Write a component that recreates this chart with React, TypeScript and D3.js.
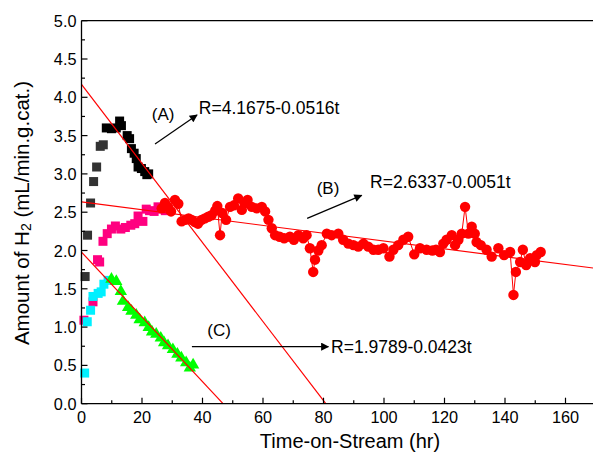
import React from "react";
import * as d3 from "d3";

const W = 593;
const H = 459;
const X_MAX = 170;
const Y_MAX = 5;

// gray squares (early part of series A)
const grayT = [1.2, 2.0, 3.0, 4.0, 5.0, 6.2, 7.2];
const grayV = [1.66, 2.2, 2.62, 2.9, 3.09, 3.36, 3.38];
// black squares (series A)
const blackT = [8.2, 9.9, 11.5, 12.6, 13.2, 15.1, 15.9, 16.5, 17.4, 18.1, 18.7, 19.8, 20.9, 21.6, 22.2];
const blackV = [3.6, 3.59, 3.6, 3.69, 3.63, 3.5, 3.46, 3.33, 3.27, 3.2, 3.09, 3.07, 3.03, 2.99, 3.0];
// magenta squares (early part of series B)
const pinkT = [0.8, 3.8, 5.3, 6.0, 7.1, 8.5, 9.9, 11.2, 13.0, 14.5, 16.3, 17.6, 18.7, 20.3, 21.4, 22.5, 24.0, 25.3, 26.4, 27.7];
const pinkV = [1.09, 1.33, 1.88, 1.85, 2.12, 2.22, 2.28, 2.32, 2.28, 2.3, 2.33, 2.35, 2.45, 2.38, 2.54, 2.52, 2.51, 2.57, 2.54, 2.52];
// red circles (series B)
const redT = [26.5, 27.6, 28.6, 29.6, 30.9, 32.0, 33.1, 34.3, 35.4, 36.4, 37.5, 38.5, 39.7, 40.8, 41.9, 43.0, 44.2, 44.9, 45.8, 46.5, 47.8, 49.1, 50.4, 51.8, 53.0, 54.0, 54.9, 56.3, 57.9, 59.6, 60.7, 61.8, 62.9, 64.0, 65.5, 67.0, 68.9, 70.2, 71.7, 73.3, 74.4, 75.5, 76.6, 77.2, 78.3, 79.4, 81.1, 82.7, 84.9, 86.5, 88.2, 89.9, 91.5, 93.2, 94.8, 96.5, 98.1, 99.8, 101.8, 103.1, 104.7, 106.4, 108.0, 110.0, 111.9, 114.1, 116.0, 117.2, 118.5, 119.6, 120.7, 122.4, 123.5, 124.6, 125.7, 126.8, 127.9, 129.0, 130.0, 130.6, 132.0, 133.9, 135.6, 137.8, 139.7, 141.7, 142.8, 143.6, 145.0, 145.9, 147.0, 148.3, 149.9, 150.5, 151.8];
const redV = [2.55, 2.62, 2.57, 2.51, 2.66, 2.61, 2.38, 2.4, 2.42, 2.4, 2.37, 2.35, 2.4, 2.42, 2.44, 2.46, 2.52, 2.58, 2.2, 2.49, 2.4, 2.57, 2.59, 2.68, 2.53, 2.62, 2.66, 2.57, 2.55, 2.57, 2.51, 2.4, 2.29, 2.2, 2.18, 2.16, 2.18, 2.14, 2.2, 2.16, 2.2, 2.03, 1.72, 1.88, 2.0, 2.07, 2.22, 2.2, 2.22, 2.14, 2.09, 2.07, 2.05, 2.09, 2.05, 2.01, 2.01, 2.03, 1.92, 2.01, 2.07, 2.14, 2.18, 1.95, 2.03, 2.01, 2.0, 2.01, 1.98, 2.09, 2.14, 2.2, 2.07, 2.14, 2.22, 2.57, 2.22, 2.31, 2.22, 2.11, 2.07, 2.01, 1.92, 2.03, 1.94, 1.98, 1.42, 1.72, 1.85, 2.01, 1.81, 1.9, 1.85, 1.94, 1.98];
// cyan squares (early part of series C)
const cyanT = [1.05, 1.9, 3.0, 3.8, 5.5, 6.5, 7.4, 8.8];
const cyanV = [0.4, 1.07, 1.22, 1.4, 1.44, 1.46, 1.56, 1.61];
// green triangles (series C)
const greenT = [9.9, 11.5, 13.0, 13.7, 15.4, 16.5, 18.1, 19.2, 20.9, 22.2, 23.3, 24.7, 26.2, 27.3, 28.6, 30.2, 31.7, 33.0, 34.6, 35.8, 36.9];
const greenV = [1.64, 1.61, 1.48, 1.35, 1.27, 1.22, 1.17, 1.11, 1.07, 1.01, 0.95, 0.92, 0.87, 0.81, 0.77, 0.72, 0.66, 0.61, 0.55, 0.48, 0.52];

// linear fits R = a - b t
const fitIntercepts = [4.1675, 2.6337, 1.9789];
const fitSlopes = [0.0516, 0.0051, 0.0423];
const fitLabels = ["R=4.1675-0.0516t", "R=2.6337-0.0051t", "R=1.9789-0.0423t"];
const tagLabels = ["(A)", "(B)", "(C)"];

// annotation anchors in data coordinates
const tagPos = [[27.0, 3.77], [81.5, 2.81], [45.5, 0.96]];
const arrowFrom = [[24.3, 3.39], [74.6, 2.42], [36.5, 0.745]];
const arrowTo = [[38.2, 3.77], [92.6, 2.72], [81.6, 0.745]];
const labelPos = [[38.8, 3.86], [95.4, 2.9], [82.5, 0.745]];

const xTicks = [0, 20, 40, 60, 80, 100, 120, 140, 160];
const yTicks = [0, 0.5, 1, 1.5, 2, 2.5, 3, 3.5, 4, 4.5, 5];

const FONT = "'Liberation Sans', Arial, sans-serif";

export default function App() {
  const left = 81.5;
  const top = 20.7;
  const bottom = 403.7;
  const x = d3.scaleLinear().domain([0, X_MAX]).range([left, left + X_MAX * 3.025]);
  const y = d3.scaleLinear().domain([0, Y_MAX]).range([bottom, top]);

  const zip = (ts: number[], vs: number[]) => ts.map((t, i) => [t, vs[i]] as [number, number]);
  const line = d3.line<[number, number]>().x((d) => x(d[0])).y((d) => y(d[1]));

  const minorX = d3.range(0, X_MAX + 0.1, 10);
  const minorY = d3.range(0, Y_MAX + 0.01, 0.25);

  const S = 9;
  const sq = (ts: number[], vs: number[], color: string, key: string) =>
    zip(ts, vs).map((d, i) => (
      <rect key={key + i} x={x(d[0]) - S / 2} y={y(d[1]) - S / 2} width={S} height={S} fill={color} />
    ));

  const tri = d3.symbol().type(d3.symbolTriangle).size(66);
  const triPath = tri() as string;

  return (
    <svg width={W} height={H} style={{ position: "absolute", left: 0, top: 0, background: "#fff" }} fontFamily={FONT}>
      <defs>
        <marker id="ah" viewBox="0 0 10 10" refX="9" refY="5" markerWidth="10" markerHeight="8" markerUnits="userSpaceOnUse" orient="auto">
          <path d="M0,0 L10,5 L0,10 z" fill="#000" />
        </marker>
      </defs>

      {/* markers */}
      {sq(grayT, grayV, "#333333", "g")}
      {sq(blackT, blackV, "#000000", "b")}
      {sq(pinkT, pinkV, "#ff0080", "p")}
      {sq(cyanT, cyanV, "#00f0ff", "c")}
      <path d={line(zip(redT, redV)) as string} fill="none" stroke="#ff0000" strokeWidth={1} />
      {zip(redT, redV).map((d, i) => (
        <circle key={"r" + i} cx={x(d[0])} cy={y(d[1])} r={5.2} fill="#ff0000" />
      ))}
      {zip(greenT, greenV).map((d, i) => (
        <path key={"t" + i} d={triPath} transform={`translate(${x(d[0])},${y(d[1]) + 1})`} fill="#00ff00" />
      ))}

      {/* fit lines */}
      {fitIntercepts.map((a, i) => {
        const b = fitSlopes[i];
        const tEnd = Math.min(X_MAX, a / b);
        return (
          <line key={"f" + i} x1={x(0)} y1={y(a)} x2={x(tEnd)} y2={y(a - b * tEnd)} stroke="#ff0000" strokeWidth={1.2} />
        );
      })}

      {/* annotations */}
      {tagLabels.map((t, i) => (
        <g key={"a" + i}>
          <text x={x(tagPos[i][0])} y={y(tagPos[i][1])} textAnchor="middle" dominantBaseline="central" fontSize={17}>{t}</text>
          <line x1={x(arrowFrom[i][0])} y1={y(arrowFrom[i][1])} x2={x(arrowTo[i][0])} y2={y(arrowTo[i][1])} stroke="#000" strokeWidth={1.2} markerEnd="url(#ah)" />
          <text x={x(labelPos[i][0])} y={y(labelPos[i][1])} dominantBaseline="central" fontSize={17.5}>{fitLabels[i]}</text>
        </g>
      ))}

      {/* axes frame */}
      <line x1={x(0)} y1={top} x2={x(0)} y2={bottom} stroke="#000" strokeWidth={1.3} />
      <line x1={x(0)} y1={bottom} x2={x(X_MAX)} y2={bottom} stroke="#000" strokeWidth={1.3} />
      <line x1={x(0)} y1={top} x2={x(X_MAX)} y2={top} stroke="#000" strokeWidth={1.3} />
      <line x1={x(X_MAX)} y1={top} x2={x(X_MAX)} y2={bottom} stroke="#000" strokeWidth={1.3} />

      {minorX.map((t) => (
        <line key={"mx" + t} x1={x(t)} x2={x(t)} y1={bottom} y2={bottom - (t % 20 === 0 ? 6 : 3.5)} stroke="#000" strokeWidth={1.2} />
      ))}
      {minorY.map((v) => (
        <line key={"my" + v} x1={x(0)} x2={x(0) + (Math.abs(v * 2 - Math.round(v * 2)) < 1e-6 ? 6 : 3.5)} y1={y(v)} y2={y(v)} stroke="#000" strokeWidth={1.2} />
      ))}

      {xTicks.map((t) => (
        <text key={"xt" + t} x={x(t)} y={bottom + 19} textAnchor="middle" fontSize={16.3}>{t}</text>
      ))}
      {yTicks.map((v) => (
        <text key={"yt" + v} x={x(0) - 5} y={y(v)} textAnchor="end" dominantBaseline="central" fontSize={16.3}>{v.toFixed(1)}</text>
      ))}

      <text x={350} y={448} textAnchor="middle" fontSize={20}>Time-on-Stream (hr)</text>
      <text transform={`translate(21, 213) rotate(-90)`} textAnchor="middle" dominantBaseline="central" fontSize={20.5}>
        Amount of H<tspan fontSize={14} dy={5}>2</tspan><tspan dy={-5}> (mL/min.g.cat.)</tspan>
      </text>
    </svg>
  );
}
